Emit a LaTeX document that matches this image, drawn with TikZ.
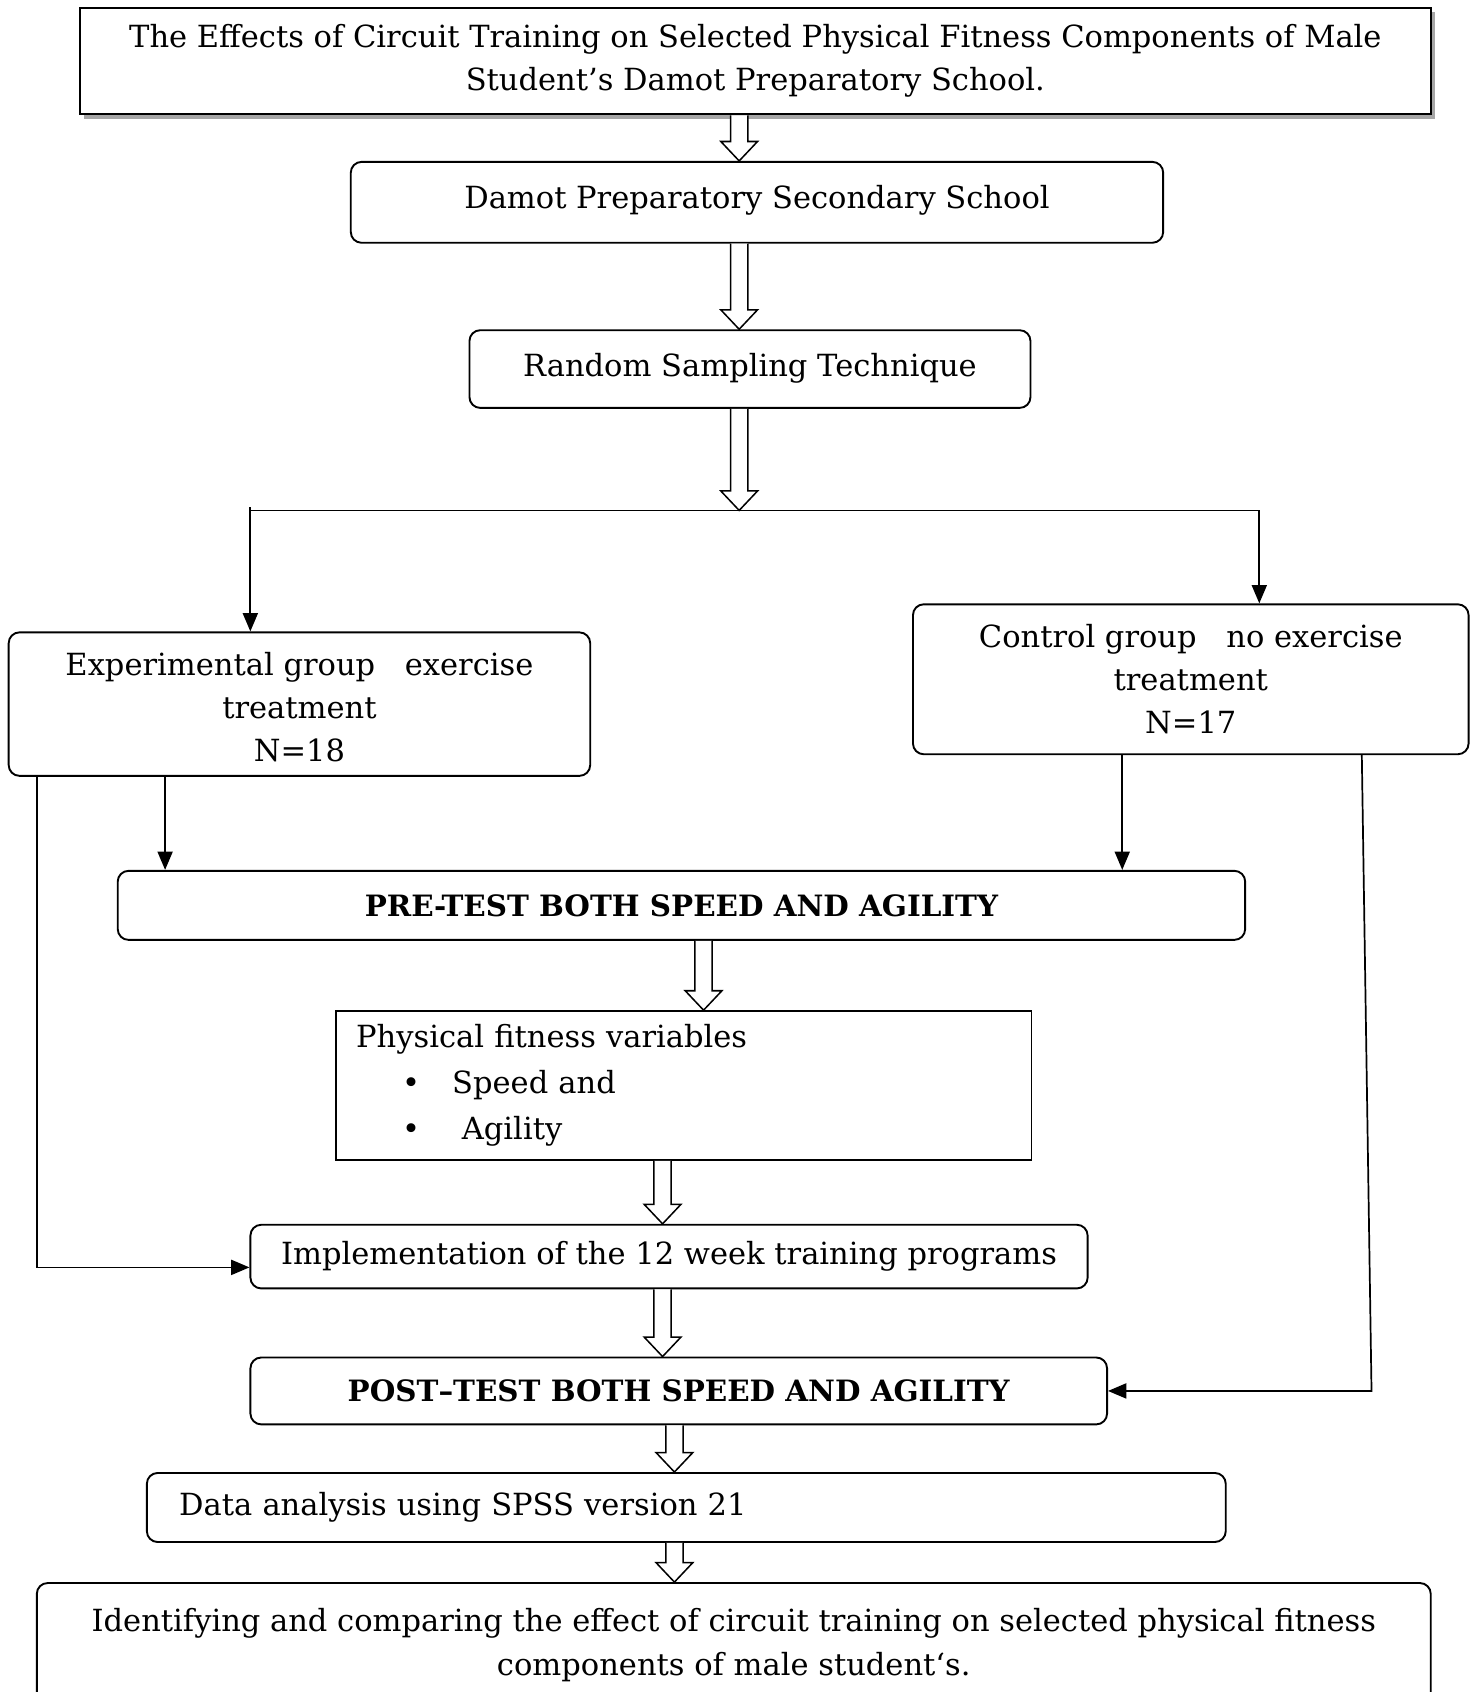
\documentclass[tikz,border=0pt]{standalone}
\usepackage{fontspec}
\setmainfont{DejaVu Serif}
\usetikzlibrary{calc, arrows.meta, shadows}

\tikzset{
	box/.style = {draw, line width = 1pt, align = center, inner sep = 0pt, font = {\fontsize{16.1}{22.8}\selectfont}},
	roundbox/.style = {box, rounded corners = 0.2cm},
	boldtext/.style = {font = {\fontsize{15.5}{22.8}\selectfont\bfseries}},
	shadowed/.style = {drop shadow = {shadow xshift = 0.08cm, shadow yshift = -0.08cm, opacity = 1, fill = gray!70}},
	hollow/.style = {draw, line width = 0.8pt, fill = white},
	link/.style = {line width = 0.9pt},
	arrowlink/.style = {link, -{Triangle[length = 0.34cm, width = 0.28cm]}}
}

% Block arrow with an open outline: x position, start anchor, tip anchor

\newcommand{\arrshaft}{8}
\newcommand{\arrhead}{17}
\newcommand{\arrlen}{18}
\newcommand{\hollowarrow}[3]{%
	\coordinate (ha-top) at (#2 -| #1,0);
	\coordinate (ha-tip) at (#3 -| #1,0);
	\draw [hollow] ($(ha-top) + (-\arrshaft, 0)$) -- ($(ha-tip) + (-\arrshaft, -\arrlen)$) -- ($(ha-tip) + (-\arrhead, -\arrlen)$) -- (ha-tip) -- ($(ha-tip) + (\arrhead, -\arrlen)$) -- ($(ha-tip) + (\arrshaft, -\arrlen)$) -- ($(ha-top) + (\arrshaft, 0)$);%
}

\begin{document}
\begin{tikzpicture}[x = 0.02cm, y = -0.02cm]

	\useasboundingbox (0, 0) rectangle (1369, 1568);
	\clip (0, 0) rectangle (1369, 1568);
	
	% Title and sampling
	
	\node [box, shadowed, fill = white, minimum width = 25.04cm, minimum height = 1.98cm] (title) at (700, 56.5) {The Effects of Circuit Training on Selected Physical Fitness Components of Male\\ Student’s Damot Preparatory School.};
	\node [roundbox, minimum width = 15.06cm, minimum height = 1.5cm, text depth = 0.2cm] (school) at (701.5, 187.5) {Damot Preparatory Secondary School};
	\node [roundbox, minimum width = 10.4cm, minimum height = 1.44cm, text depth = 0.14cm] (sampling) at (695, 342) {Random Sampling Technique};
	
	% The two groups
	
	\node [roundbox, minimum width = 10.78cm, minimum height = 2.66cm] (exp) at (277.5, 652.5) {\\[-0.25cm]Experimental group\hspace{0.55cm}exercise\\ treatment\\ N=18};
	\node [roundbox, minimum width = 10.3cm, minimum height = 2.78cm] (ctrl) at (1103.5, 629.5) {Control group\hspace{0.55cm}no exercise\\ treatment\\ N=17};
	
	% Tests and training
	
	\node [roundbox, boldtext, minimum width = 20.9cm, minimum height = 1.28cm] (pre) at (631.5, 839) {PRE-TEST BOTH SPEED AND AGILITY};
	\node [box, align = left, text width = 12.14cm, inner xsep = 0.38cm, minimum height = 2.76cm] (phys) at (633.5, 1006) {Physical fitness variables\\[0.05cm]
		\hspace*{1.02cm}\makebox[0pt]{\textbullet}\hspace*{0.76cm}Speed and\\[0.05cm]
		\hspace*{1.02cm}\makebox[0pt]{\textbullet}\hspace*{0.94cm}Agility};
	\node [roundbox, minimum width = 15.52cm, minimum height = 1.18cm] (impl) at (620, 1164.5) {Implementation of the 12 week training programs};
	\node [roundbox, boldtext, minimum width = 15.88cm, minimum height = 1.24cm] (post) at (629, 1289) {POST–TEST BOTH SPEED AND AGILITY};
	
	% Analysis and outcome
	
	\node [roundbox, align = left, text width = 18.8cm, inner xsep = 0.6cm, minimum height = 1.28cm] (data) at (636, 1397) {Data analysis using SPSS version 21};
	\node [roundbox, minimum width = 25.84cm, minimum height = 2.3cm] (final) at (680, 1524.5) {Identifying and comparing the effect of circuit training on selected physical fitness\\ components of male student‘s.};
	
	% Hollow arrows down the main line
	
	\foreach \x/\a/\b in {685/title/school, 685/school/sampling, 652/pre/phys, 614/phys/impl, 614/impl/post, 625/post/data, 625/data/final}
		\hollowarrow{\x}{\a.south}{\b.north};
	
	% Split into the groups
	
	\coordinate (split) at (685, 473);
	\coordinate (splitL) at (232, 473);
	\coordinate (splitR) at (1167, 473);
	
	\draw [link] (splitL) -- (splitR);
	\hollowarrow{685}{sampling.south}{split}
	\draw [arrowlink] ([yshift = 0.06cm] splitL) -- (splitL |- exp.north);
	\draw [arrowlink] (splitR) -- (splitR |- ctrl.north);
	
	% From the groups to the tests
	
	\draw [arrowlink] (exp.south -| 153,0) -- (pre.north -| 153,0);
	\draw [arrowlink] (exp.south -| 34,0) |- ([yshift = -0.2cm] impl.west);
	\draw [arrowlink] (ctrl.south -| 1040,0) -- (pre.north -| 1040,0);
	\draw [arrowlink] (ctrl.south -| 1262,0) -- (post.east -| 1271,0) -- (post.east);

\end{tikzpicture}
\end{document}
